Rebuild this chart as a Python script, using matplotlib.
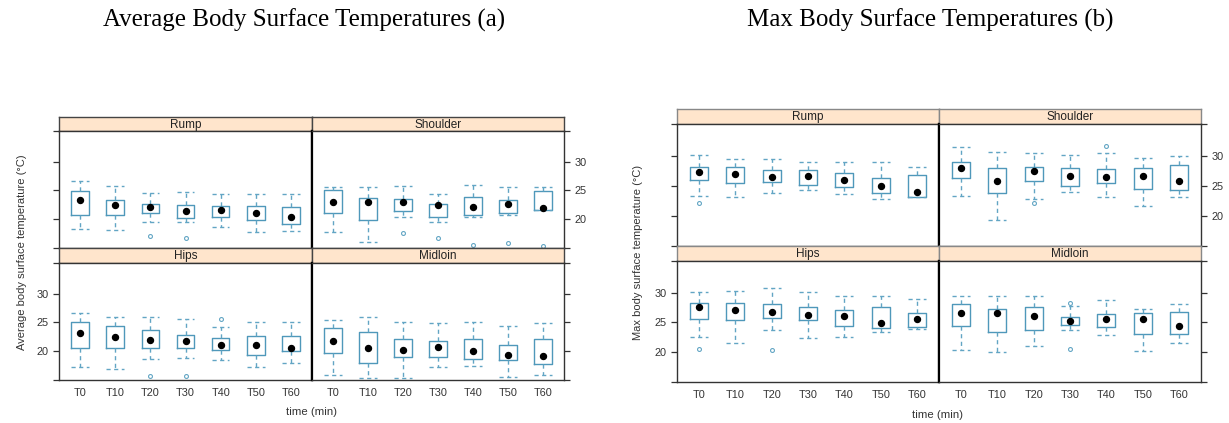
import matplotlib
matplotlib.use("Agg")
import matplotlib.pyplot as plt

times = ["T0", "T10", "T20", "T30", "T40", "T50", "T60"]
regions = ["Rump", "Shoulder", "Hips", "Midloin"]

# (whisker low, Q1, median, Q3, whisker high) per time point
avg_rump = [(18.3, 20.8, 23.4, 24.9, 26.6), (18.2, 20.8, 22.4, 23.4, 25.8),
            (19.45, 21.1, 22.2, 22.6, 24.6), (19.5, 20.2, 21.5, 22.5, 24.8),
            (18.7, 20.35, 21.6, 22.3, 24.35), (17.7, 19.9, 21.0, 22.3, 24.35),
            (18.0, 19.2, 20.3, 22.2, 24.35)]
avg_rump_out = [[], [], [17.1], [16.8], [], [], []]

avg_shoulder = [(17.7, 21.0, 22.9, 25.1, 25.6), (16.0, 19.8, 23.0, 23.7, 25.5),
                (20.3, 21.5, 23.0, 23.55, 25.75), (19.5, 20.35, 22.4, 22.6, 24.35),
                (20.4, 20.8, 22.2, 23.8, 25.9), (20.8, 21.0, 22.6, 23.3, 25.5),
                (21.6, 21.6, 22.0, 24.9, 25.6)]
avg_shoulder_out = [[], [], [17.6], [16.7], [15.6], [15.8], [15.3]]

avg_hips = [(17.2, 20.6, 23.2, 25.0, 26.55), (16.9, 20.5, 22.4, 24.4, 25.9),
            (18.6, 20.6, 22.0, 23.6, 25.9), (18.8, 20.6, 21.7, 22.8, 25.5),
            (18.4, 20.25, 21.1, 22.25, 24.2), (17.3, 19.35, 21.0, 22.7, 25.0),
            (18.0, 20.0, 20.5, 22.7, 25.0)]
avg_hips_out = [[], [], [15.7], [15.7], [25.6], [], []]

avg_midloin = [(15.8, 19.6, 21.75, 24.0, 25.45), (15.35, 18.0, 20.5, 23.4, 25.9),
               (15.35, 19.05, 20.2, 22.2, 25.05), (17.2, 19.05, 20.8, 21.75, 24.95),
               (17.35, 18.65, 20.0, 22.1, 25.05), (15.45, 18.4, 19.4, 21.05, 24.4),
               (15.8, 17.8, 19.2, 22.2, 24.9)]
avg_midloin_out = [[], [], [], [], [], [], []]

max_rump = [(23.4, 26.05, 27.3, 28.15, 30.2), (23.1, 25.4, 27.05, 28.2, 29.55),
            (23.9, 25.7, 26.5, 27.6, 29.4), (24.4, 25.1, 26.7, 27.6, 28.9),
            (23.7, 24.85, 25.95, 27.2, 28.9), (22.75, 23.9, 25.05, 26.3, 29.05),
            (23.1, 23.2, 23.95, 26.8, 28.2)]
max_rump_out = [[22.2], [], [], [], [], [], []]

max_shoulder = [(23.25, 26.3, 27.9, 28.9, 31.45), (19.25, 23.9, 25.75, 28.0, 30.65),
                (22.8, 25.8, 27.45, 28.15, 30.55), (23.95, 25.05, 26.65, 28.0, 30.2),
                (23.1, 25.5, 26.5, 27.8, 30.4), (21.6, 24.45, 26.7, 28.0, 29.7),
                (23.2, 24.35, 25.75, 28.5, 29.9)]
max_shoulder_out = [[], [], [22.2], [], [31.7], [], []]

max_hips = [(22.5, 25.5, 27.5, 28.25, 30.05), (21.5, 25.35, 27.0, 28.25, 30.35),
            (23.7, 25.7, 26.75, 28.15, 30.75), (22.35, 25.35, 26.3, 27.5, 30.05),
            (22.6, 24.45, 26.05, 27.05, 29.35), (23.4, 24.1, 24.9, 27.6, 29.35),
            (23.9, 24.3, 25.55, 26.55, 28.85)]
max_hips_out = [[20.6], [], [20.45], [], [], [], []]

max_midloin = [(20.45, 24.45, 26.6, 28.15, 29.45), (20.05, 23.4, 26.5, 27.3, 29.45),
               (21.1, 23.8, 26.1, 27.6, 29.35), (23.7, 24.55, 25.3, 25.9, 27.75),
               (22.9, 24.2, 25.55, 26.45, 28.8), (20.15, 23.0, 25.6, 26.55, 27.3),
               (21.5, 23.0, 24.4, 26.8, 28.15)]
max_midloin_out = [[], [], [], [28.2, 20.5], [], [], []]

y_ticks = [20, 25, 30]
y_lim = (15.0, 35.3)

W, H = 1229, 423
fig = plt.figure(figsize=(W / 100, H / 100), dpi=100)
fig.patch.set_facecolor("white")

BOX_C = "#4f98ba"
WHIS_C = "#62a5c4"
STRIP_C = "#FFE5CC"
SANS = "Liberation Sans"


def add_ax(x0, x1, y0, y1):
    return fig.add_axes([x0 / W, 1 - y1 / H, (x1 - x0) / W, (y1 - y0) / H])


def draw_panel(ax, stats5, outliers):
    stats = []
    for (lo, q1, med, q3, hi), fl in zip(stats5, outliers):
        stats.append(dict(whislo=lo, q1=q1, med=med, q3=q3, whishi=hi,
                          fliers=fl, mean=med))
    pos = list(range(1, len(stats) + 1))
    ax.bxp(stats, positions=pos, widths=0.5, capwidths=0.5,
           showmeans=True, showfliers=True,
           boxprops=dict(color=BOX_C, linewidth=1.0),
           whiskerprops=dict(color=WHIS_C, linewidth=1.0, linestyle=(0, (3, 2.5))),
           capprops=dict(color=WHIS_C, linewidth=1.0, linestyle=(0, (3, 2.5))),
           medianprops=dict(linewidth=0),
           meanprops=dict(marker="o", markerfacecolor="black",
                          markeredgecolor="black", markersize=4.3),
           flierprops=dict(marker="o", markerfacecolor="none",
                           markeredgecolor=WHIS_C, markersize=2.8,
                           markeredgewidth=0.8))
    ax.set_xlim(0.4, 7.6)
    ax.set_ylim(*y_lim)


def draw_chart(cols, rows, data, outs, title, title_x, ylabel, ylabel_x,
               xlabel_x, xlabel_y, frame_c):
    for r in range(2):
        st, pt, pb = rows[r]
        for c in range(2):
            idx = r * 2 + c
            x0, x1 = cols[c]
            sax = add_ax(x0, x1, st, pt)
            sax.set_facecolor(STRIP_C)
            sax.set_xticks([])
            sax.set_yticks([])
            for s in sax.spines.values():
                s.set_color(frame_c)
                s.set_linewidth(1.0)
            sax.text(0.5, 0.45, regions[idx], transform=sax.transAxes,
                     ha="center", va="center", fontsize=8.5, family=SANS,
                     color="#222222")
            ax = add_ax(x0, x1, pt, pb)
            draw_panel(ax, data[idx], outs[idx])
            for s in ax.spines.values():
                s.set_color("#333333")
                s.set_linewidth(1.0)
            if c == 0:
                ax.spines["right"].set_color("black")
                ax.spines["right"].set_linewidth(1.6)
            else:
                ax.spines["left"].set_color("black")
                ax.spines["left"].set_linewidth(1.6)
            ax.set_yticks(y_ticks)
            ax.set_yticks(list(y_lim), minor=True)
            side_left = (c == 0)
            label_on = (r == 0 and c == 1) or (r == 1 and c == 0)
            ax.tick_params(axis="y", which="both", direction="out",
                           length=4.5, width=0.9, color="#333333",
                           left=side_left, right=not side_left,
                           labelleft=side_left and label_on,
                           labelright=(not side_left) and label_on,
                           labelsize=7.8, labelcolor="#333333", pad=3)
            for lab in ax.get_yticklabels():
                lab.set_family(SANS)
            ax.set_xticks(range(1, len(times) + 1))
            if r == 1:
                ax.set_xticklabels(times, family=SANS, fontsize=7.8,
                                   color="#333333")
                ax.tick_params(axis="x", length=0, pad=6)
            else:
                ax.set_xticklabels([])
                ax.tick_params(axis="x", length=0)
    fig.text(title_x / W, 1 - 20 / H, title, ha="center", va="center",
             family="Liberation Serif", fontsize=18, color="black")
    fig.text(ylabel_x / W, 1 - 252 / H, ylabel, rotation=90, ha="center",
             va="center", family=SANS, fontsize=8.0, color="#333333")
    fig.text(xlabel_x / W, 1 - xlabel_y / H, "time (min)", ha="center",
             va="center", family=SANS, fontsize=8.2, color="#333333")


draw_chart(cols=[(59, 312), (312, 564)],
           rows=[(117, 131, 248), (248, 263, 380)],
           data=[avg_rump, avg_shoulder, avg_hips, avg_midloin],
           outs=[avg_rump_out, avg_shoulder_out, avg_hips_out, avg_midloin_out],
           title="Average Body Surface Temperatures (a)", title_x=304,
           ylabel="Average body surface temperature (°C)", ylabel_x=22,
           xlabel_x=311, xlabel_y=412, frame_c="#444444")

draw_chart(cols=[(677, 939), (939, 1201)],
           rows=[(109, 124, 246), (246, 261, 382)],
           data=[max_rump, max_shoulder, max_hips, max_midloin],
           outs=[max_rump_out, max_shoulder_out, max_hips_out, max_midloin_out],
           title="Max Body Surface Temperatures (b)", title_x=930,
           ylabel="Max body surface temperature (°C)", ylabel_x=638,
           xlabel_x=938, xlabel_y=415, frame_c="#888888")

fig.savefig("out.png", dpi=100)
